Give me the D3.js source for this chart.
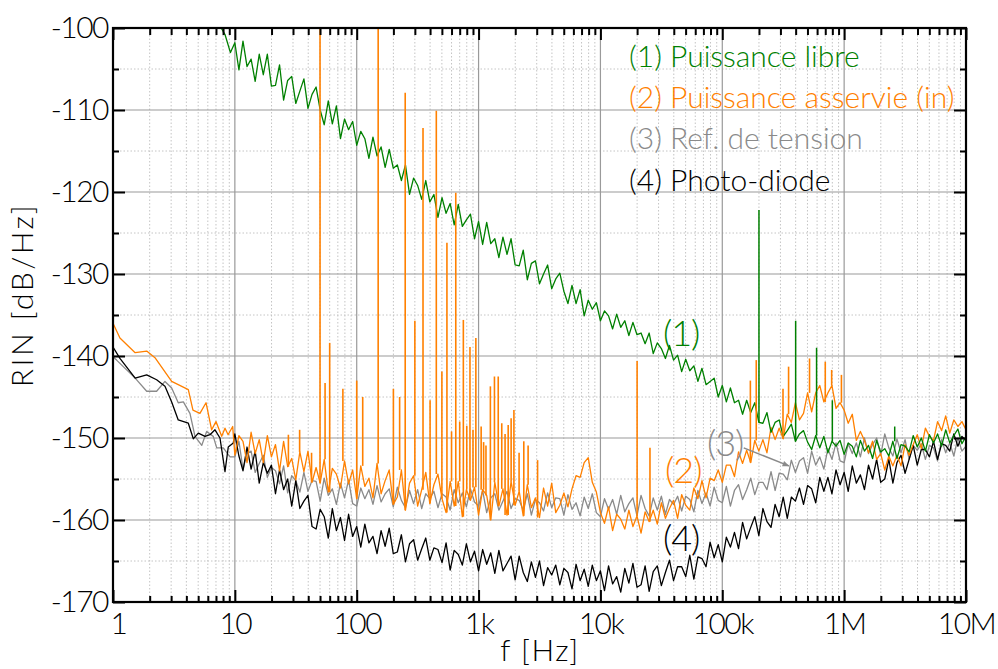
<!DOCTYPE html>
<html><head><meta charset="utf-8">
<script src="https://cdn.jsdelivr.net/npm/d3@7"></script>
<style>
body{margin:0;background:#fff;}
svg text{font-family:Lato,"Open Sans",sans-serif;font-weight:300;}
</style></head><body>
<svg id="c" width="998" height="669"></svg>
<script>
// ---------- axis data ----------
const xTickValues=[1,10,100,1e3,1e4,1e5,1e6,1e7];
const xTickLabels=["1","10","100","1k","10k","100k","1M","10M"];
const yTickValues=[-170,-160,-150,-140,-130,-120,-110,-100];
const yMinorValues=[-165,-155,-145,-135,-125,-115,-105];
const minorMultipliers=[2,3,4,5,6,7,8,9];

// ---------- series: sampling grid (10 Hz .. 10 MHz, 30 pts/decade) ----------
const gridStartHz=10, pointsPerDecade=30;

// low-frequency points [f(Hz), dB/Hz]
const greenLow=[[6,-98],[7,-99.5],[7.6,-99.8],[8.3,-100.8],[9.2,-103]];
const orangeLow=[[1,-136],[1.14,-137.8],[1.52,-139.6],[1.89,-139.4],[2.21,-140.2],[3.03,-143.1],[4.15,-144.1],[4.53,-146.6],[5.17,-147],[5.8,-145.7],[6.45,-149],[7,-148],[7.8,-149.8],[8.3,-148.8],[8.8,-149.6],[9.6,-148.6]];
const grayLow=[[1,-140.1],[1.07,-140.5],[1.52,-142.7],[1.89,-144.3],[2.28,-144.3],[2.67,-143.1],[3.03,-143.9],[3.43,-145.7],[3.78,-145.6],[4.28,-147],[4.71,-149.8],[5.35,-150.9],[5.87,-149.2],[6.65,-149.8],[7.1,-151.2],[8.04,-151.2],[9.12,-152.3]];
const blackLow=[[1,-138.9],[1.14,-140.3],[1.52,-142.7],[1.89,-142.3],[2.28,-142.9],[2.67,-143.7],[3.03,-145.6],[3.43,-147.8],[4.15,-148.2],[4.56,-150.1],[5.01,-149.4],[5.69,-149.8],[6.25,-149.6],[6.87,-149],[7.55,-150],[8.3,-154.1],[8.83,-151.1],[9.71,-150.6]];

const greenGrid=[
-101.8,-105.1,-101.6,-104.7,-103.8,-106.5,-103.2,-105.7,-103.2,-107.1,
-107.0,-104.5,-108.8,-106.4,-105.9,-109.2,-107.7,-106.2,-109.8,-108.1,
-107.2,-110.0,-111.8,-108.9,-111.7,-109.5,-113.5,-111.1,-112.4,-111.4,
-114.3,-112.6,-113.5,-115.9,-113.3,-115.6,-114.5,-117.0,-114.8,-117.1,
-116.7,-118.6,-116.7,-120.3,-118.3,-119.2,-120.9,-118.6,-121.2,-120.3,
-123.1,-120.7,-122.6,-121.4,-124.0,-121.5,-124.2,-123.4,-122.7,-125.7,
-123.6,-126.4,-123.7,-126.3,-125.7,-128.0,-125.5,-127.6,-125.7,-128.9,
-129.0,-127.1,-130.7,-128.7,-128.4,-131.2,-130.0,-128.9,-131.8,-130.6,
-129.9,-132.1,-133.6,-131.4,-133.6,-131.9,-135.1,-133.2,-134.3,-133.5,
-135.7,-134.5,-135.1,-136.7,-134.9,-136.5,-135.7,-137.5,-135.9,-137.4,
-137.2,-138.5,-137.2,-139.7,-138.4,-139.1,-140.3,-138.7,-140.5,-139.9,
-141.9,-140.4,-141.8,-141.2,-143.1,-141.5,-143.5,-143.1,-142.7,-145.0,
-143.6,-145.6,-143.9,-145.7,-145.4,-147.1,-145.4,-146.9,-145.7,-148.1,
-148.2,-146.9,-149.3,-148.1,-147.8,-149.8,-149.1,-148.3,-150.4,-149.5,
-149.1,-150.5,-151.4,-149.7,-151.2,-149.8,-151.8,-150.4,-151.0,-150.3,
-152.0,-150.6,-151.0,-152.3,-150.3,-151.6,-150.9,-152.5,-150.3,-151.7,
-151.3,-152.2,-150.4,-152.5,-150.8,-151.0,-151.7,-149.7,-151.1,-150.0,
-151.6,-149.6,-150.6,-149.5,-151.0,-149.0,-150.6,-149.7,-148.9,-150.7,
-149.8];

const orangeGrid=[
-152.1,-149.7,-150.4,-153.0,-149.3,-151.9,-150.2,-153.0,-149.7,-152.3,
-150.8,-154.0,-150.4,-153.5,-152.5,-155.1,-151.7,-154.1,-151.6,-155.4,
-153.6,-155.5,-152.6,-156.6,-153.7,-154.4,-156.1,-152.8,-155.6,-153.9,
-157.4,-153.4,-155.9,-154.9,-157.3,-153.1,-156.8,-155.2,-153.9,-158.1,
-157.2,-153.9,-158.8,-155.5,-154.6,-158.3,-156.3,-154.2,-158.0,-155.7,
-154.4,-157.4,-159.1,-155.3,-158.3,-155.3,-159.6,-156.3,-157.6,-156.0,
-159.4,-156.3,-157.0,-160.0,-155.4,-158.3,-156.2,-159.4,-155.3,-158.2,
-156.5,-159.5,-155.7,-158.5,-157.3,-159.7,-156.1,-158.3,-155.5,-159.1,
-158.2,-156.7,-158.4,-156.2,-154.6,-154.8,-153.0,-152.4,-155.4,-156.6,
-159.1,-160.4,-158.4,-161.3,-159.3,-159.9,-161.1,-158.8,-160.8,-159.5,
-161.6,-159.0,-160.2,-158.8,-160.5,-157.9,-159.8,-158.6,-157.6,-159.8,
-156.9,-158.2,-158.8,-156.1,-157.4,-155.2,-157.3,-154.9,-155.2,-153.9,
-155.4,-153.3,-153.3,-154.7,-151.7,-153.1,-151.5,-153.0,-150.3,-151.6,
-150.2,-151.8,-148.7,-150.2,-148.8,-150.1,-147.1,-148.1,-145.7,-147.8,
-147.0,-144.5,-146.8,-144.5,-143.6,-145.6,-144.5,-143.6,-146.4,-145.7,
-146.6,-148.2,-147.1,-150.3,-149.2,-150.3,-151.8,-150.4,-152.6,-151.9,
-153.9,-152.2,-153.4,-152.1,-153.4,-150.8,-152.1,-150.8,-149.6,-151.3,
-148.8,-149.8,-150.3,-148.0,-149.1,-147.3,-149.4,-147.8,-148.6,-148.0,
-149.0];

const grayGrid=[
-152.3,-150.4,-153.8,-151.9,-151.6,-154.2,-153.1,-152.1,-154.8,-153.6,
-154.0,-155.6,-153.4,-156.7,-154.6,-155.2,-156.6,-154.2,-156.5,-155.2,
-155.3,-157.7,-154.9,-157.0,-156.2,-158.1,-155.5,-157.3,-155.1,-158.0,
-158.3,-156.1,-157.4,-156.3,-158.1,-155.8,-157.8,-156.8,-156.2,-158.4,
-156.0,-157.6,-158.5,-156.4,-158.0,-156.3,-158.6,-156.8,-157.4,-156.5,
-158.5,-156.8,-157.2,-158.8,-156.3,-157.9,-156.7,-158.4,-156.2,-157.8,
-158.3,-156.4,-159.1,-157.3,-156.8,-158.8,-157.7,-156.5,-158.6,-157.4,
-157.6,-158.8,-156.8,-159.4,-157.5,-157.9,-158.9,-156.7,-158.5,-157.3,
-157.4,-159.4,-156.9,-158.7,-157.9,-159.5,-157.2,-158.6,-156.8,-159.1,
-159.6,-157.4,-158.7,-157.5,-159.3,-157.0,-159.0,-158.0,-157.3,-159.5,
-157.0,-158.6,-159.5,-157.3,-158.8,-157.1,-159.3,-157.5,-158.1,-157.1,
-158.9,-157.1,-157.5,-159.0,-156.4,-158.0,-156.7,-158.3,-156.0,-157.6,
-157.9,-155.9,-158.3,-156.4,-155.7,-157.5,-156.3,-154.9,-156.9,-155.4,
-155.4,-156.3,-154.1,-156.4,-154.3,-154.4,-155.1,-152.7,-154.2,-152.8,
-152.4,-154.3,-151.6,-153.3,-152.3,-153.8,-151.3,-152.6,-150.6,-152.8,
-153.0,-150.7,-151.9,-150.6,-152.3,-150.0,-151.9,-150.8,-150.0,-152.1,
-149.5,-151.2,-152.2,-150.1,-151.8,-150.2,-152.6,-150.9,-151.5,-150.7,
-152.6,-150.9,-151.2,-152.8,-150.2,-151.8,-150.6,-152.2,-150.0,-151.6,
-151.0];

const blackGrid=[
-149.5,-152.2,-154.0,-151.1,-153.8,-151.6,-155.5,-153.0,-154.3,-153.3,
-156.8,-153.9,-156.3,-155.0,-158.3,-155.2,-158.6,-157.7,-157.0,-160.8,
-161.1,-158.7,-159.6,-162.2,-158.6,-161.3,-159.7,-162.5,-159.3,-162.0,
-160.8,-163.3,-160.5,-162.8,-162.0,-164.1,-161.3,-163.2,-161.0,-164.1,
-163.9,-161.8,-165.1,-162.9,-162.4,-164.9,-163.5,-162.2,-164.9,-163.4,
-163.6,-165.2,-162.8,-166.1,-163.7,-164.2,-165.5,-162.9,-165.1,-163.8,
-166.2,-163.6,-165.4,-164.0,-166.5,-163.7,-166.2,-165.3,-164.4,-167.3,
-164.4,-166.4,-167.5,-165.1,-167.0,-165.0,-168.0,-165.8,-166.7,-165.5,
-167.9,-165.9,-166.4,-168.4,-165.4,-167.4,-166.0,-168.1,-165.5,-167.4,
-166.2,-168.6,-165.6,-167.8,-166.9,-168.8,-165.9,-167.7,-165.3,-168.2,
-167.9,-165.6,-168.7,-166.3,-165.6,-168.0,-166.4,-164.9,-167.4,-165.7,
-165.7,-166.9,-164.3,-167.2,-164.5,-164.7,-165.7,-162.7,-164.6,-163.0,
-165.1,-162.1,-163.3,-161.5,-163.5,-160.3,-162.3,-160.9,-159.6,-161.9,
-158.6,-160.2,-160.9,-158.1,-159.6,-157.2,-159.8,-157.2,-157.7,-156.1,
-158.1,-155.8,-156.2,-157.9,-154.8,-156.5,-154.8,-156.8,-153.9,-155.7,
-154.2,-156.5,-153.4,-155.5,-154.5,-156.3,-153.3,-155.0,-152.6,-155.4,
-155.0,-152.6,-155.5,-153.0,-152.1,-154.3,-152.6,-150.9,-153.3,-151.4,
-151.4,-152.3,-150.4,-152.6,-150.7,-150.9,-151.6,-149.5,-151.0,-149.8,
-150.3];

// discrete spikes (frequency in Hz, peak level in dB/Hz)
const orangeSpikeFreqs=[27.5,34,42.6,50,55,60,77,100,112,150,200,225,250,300,350,400,450,500,550,600,650,700,750,800,850,900,950,1050,1100,1150,1250,1350,1450,1550,1650,1750,1850,1950,2150,2350,2550,3050,20000,25500,170000,190000,315000,350000,520000,700000,790000,950000];
const orangeSpikeTops=[-149.6,-149,-151.8,-99,-143.3,-138.4,-144,-143,-145,-99,-144,-145,-107.9,-135.7,-112.2,-145.4,-110.1,-141.9,-126.2,-149.2,-120.1,-148,-135.6,-148.5,-138.9,-149,-137.8,-148.6,-150.5,-150.9,-143.7,-142.5,-142.5,-148.2,-149.5,-148.4,-147.6,-146.6,-151.8,-150.4,-150.9,-152.7,-140.6,-151.2,-143,-140.5,-144,-141.3,-140.3,-140.7,-141.7,-142.3];
const greenSpikeFreqs=[200000,400000,594000,800000,2600000];
const greenSpikeTops=[-122.2,-135.7,-139,-145.4,-148.6];

const legendLabels=["(1) Puissance libre","(2) Puissance asservie (in)","(3) Ref. de tension","(4) Photo-diode"];
const seriesColors=["#008000","#ff8000","#8a8a8a","#000000"];

// ---------- build ----------
const gridFreq=i=>gridStartHz*Math.pow(10,i/pointsPerDecade);
const toPairs=(low,grid)=>low.concat(grid.map((v,i)=>[gridFreq(i),v]));
const greenData=toPairs(greenLow,greenGrid);
const orangeData=toPairs(orangeLow,orangeGrid);
const grayData=toPairs(grayLow,grayGrid);
const blackData=toPairs(blackLow,blackGrid);
const nearestGrid=(grid,f)=>grid[Math.max(0,Math.min(grid.length-1,Math.round(pointsPerDecade*Math.log10(f/gridStartHz))))];

const L=113,R=966,T=28,B=602;
const x=d3.scaleLog().domain([1,1e7]).range([L,R]);
const y=d3.scaleLinear().domain([-170,-100]).range([B,T]);
const svg=d3.select("#c");

const minorX=[];
for(let d=0;d<7;d++) minorMultipliers.forEach(k=>minorX.push(k*Math.pow(10,d)));

// grid
const grid=svg.append("g");
grid.selectAll(".vmin").data(minorX).join("line")
  .attr("x1",d=>x(d)).attr("x2",d=>x(d)).attr("y1",T).attr("y2",B)
  .attr("stroke","#c4c4c4").attr("stroke-width",1).attr("stroke-dasharray","1.5,2");
grid.selectAll(".hmin").data(yMinorValues).join("line")
  .attr("x1",L).attr("x2",R).attr("y1",d=>y(d)).attr("y2",d=>y(d))
  .attr("stroke","#c4c4c4").attr("stroke-width",1).attr("stroke-dasharray","1.5,2");
grid.selectAll(".vmaj").data(xTickValues.slice(1,-1)).join("line")
  .attr("x1",d=>x(d)).attr("x2",d=>x(d)).attr("y1",T).attr("y2",B)
  .attr("stroke","#9a9a9a").attr("stroke-width",1.2);
grid.selectAll(".hmaj").data(yTickValues.slice(1,-1)).join("line")
  .attr("x1",L).attr("x2",R).attr("y1",d=>y(d)).attr("y2",d=>y(d))
  .attr("stroke","#9a9a9a").attr("stroke-width",1.2);

// data
svg.append("clipPath").attr("id","clip").append("rect").attr("x",L).attr("y",T).attr("width",R-L).attr("height",B-T);
const plot=svg.append("g").attr("clip-path","url(#clip)");
const line=d3.line().x(d=>x(d[0])).y(d=>y(d[1]));
const drawSeries=(data,color)=>plot.append("path").datum(data).attr("d",line)
  .attr("fill","none").attr("stroke",color).attr("stroke-width",1.3).attr("stroke-linejoin","round");
drawSeries(grayData,seriesColors[2]);
drawSeries(blackData,seriesColors[3]);
drawSeries(orangeData,seriesColors[1]);
drawSeries(greenData,seriesColors[0]);

plot.selectAll(".ospike").data(orangeSpikeFreqs).join("line")
  .attr("x1",d=>x(d)).attr("x2",d=>x(d))
  .attr("y1",(d,i)=>y(orangeSpikeTops[i]))
  .attr("y2",d=>y(nearestGrid(orangeGrid,d)))
  .attr("stroke",seriesColors[1]).attr("stroke-width",1.6);
plot.selectAll(".gspike").data(greenSpikeFreqs).join("line")
  .attr("x1",d=>x(d)).attr("x2",d=>x(d))
  .attr("y1",(d,i)=>y(greenSpikeTops[i]))
  .attr("y2",d=>y(nearestGrid(greenGrid,d)))
  .attr("stroke",seriesColors[0]).attr("stroke-width",1.5);

// axes
function styleAxis(g){
  g.select(".domain").remove();
  g.selectAll(".tick line").attr("stroke","#000").attr("stroke-width",2);
  g.attr("font-family",null).attr("font-size",null);
  g.selectAll("text").attr("fill","#000").style("font-size","30px").style("letter-spacing","-1.5px");
}
svg.append("g").attr("transform",`translate(0,${B})`)
  .call(d3.axisBottom(x).tickValues(minorX).tickFormat("").tickSizeInner(-6).tickSizeOuter(0)).call(styleAxis);
const xAxisG=svg.append("g").attr("transform",`translate(0,${B})`)
  .call(d3.axisBottom(x).tickValues(xTickValues).tickFormat((d,i)=>xTickLabels[i]).tickSizeInner(-12).tickSizeOuter(0).tickPadding(11)).call(styleAxis);
xAxisG.selectAll("text").filter(d=>d===1).attr("text-anchor","start").attr("dx","-3");
svg.append("g").attr("transform",`translate(0,${T})`)
  .call(d3.axisTop(x).tickValues(minorX).tickFormat("").tickSizeInner(-7).tickSizeOuter(0)).call(styleAxis);
svg.append("g").attr("transform",`translate(0,${T})`)
  .call(d3.axisTop(x).tickValues(xTickValues).tickFormat("").tickSizeInner(-12).tickSizeOuter(0)).call(styleAxis);
svg.append("g").attr("transform",`translate(${L},0)`)
  .call(d3.axisLeft(y).tickValues(yMinorValues).tickFormat("").tickSizeInner(-6).tickSizeOuter(0)).call(styleAxis);
const yAxisG=svg.append("g").attr("transform",`translate(${L},0)`)
  .call(d3.axisLeft(y).tickValues(yTickValues).tickFormat(d=>String(d)).tickSizeInner(-12).tickSizeOuter(0).tickPadding(5)).call(styleAxis);
yAxisG.selectAll("text").attr("dy","0.3em");
svg.append("g").attr("transform",`translate(${R},0)`)
  .call(d3.axisRight(y).tickValues(yMinorValues).tickFormat("").tickSizeInner(-6).tickSizeOuter(0)).call(styleAxis);
svg.append("g").attr("transform",`translate(${R},0)`)
  .call(d3.axisRight(y).tickValues(yTickValues).tickFormat("").tickSizeInner(-12).tickSizeOuter(0)).call(styleAxis);

svg.append("rect").attr("x",L).attr("y",T).attr("width",R-L).attr("height",B-T)
  .attr("fill","none").attr("stroke","#000").attr("stroke-width",2.2);

// axis titles
svg.append("text").attr("x",540).attr("y",661).attr("text-anchor","middle")
  .style("font-size","30px").style("letter-spacing","1.5px").text("f [Hz]");
svg.append("text").attr("transform","translate(33,295) rotate(-90)").attr("text-anchor","middle")
  .style("font-size","30px").style("letter-spacing","2.5px").text("RIN [dB/Hz]");

// legend
svg.append("g").selectAll("text").data(legendLabels).join("text")
  .attr("x",629).attr("y",(d,i)=>67+i*41.2)
  .attr("fill",(d,i)=>seriesColors[i])
  .style("font-size","30px").style("letter-spacing","0px").text(d=>d);

// curve annotations
const notes=[["(1)",32600,-138.8,seriesColors[0]],["(2)",33900,-155.5,"#ff8000"],["(3)",74800,-152.2,seriesColors[2]],["(4)",32600,-163.8,"#000"]];
svg.append("g").selectAll("text").data(notes).join("text")
  .attr("x",d=>x(d[1])).attr("y",d=>y(d[2])).attr("fill",d=>d[3])
  .style("font-size","36px").style("letter-spacing","-1px").text(d=>d[0]);

// arrow from (3)
svg.append("defs").append("marker").attr("id","ah").attr("viewBox","0 0 10 10").attr("refX",9).attr("refY",5)
  .attr("markerWidth",9).attr("markerHeight",7).attr("orient","auto").attr("markerUnits","userSpaceOnUse")
  .append("path").attr("d","M0,1 L10,5 L0,9 z").attr("fill","#8a8a8a");
svg.append("line").attr("x1",x(150000)).attr("y1",y(-151.2)).attr("x2",x(352000)).attr("y2",y(-153.4))
  .attr("stroke","#8a8a8a").attr("stroke-width",1.5).attr("marker-end","url(#ah)");
</script>
</body></html>
